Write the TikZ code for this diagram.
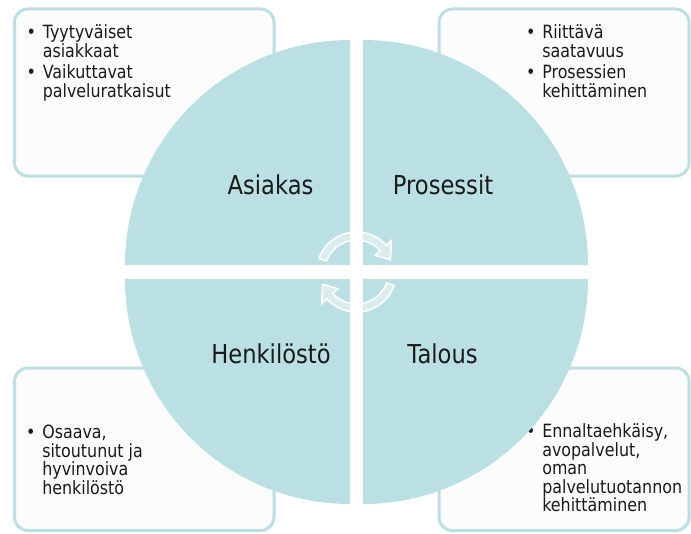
\documentclass[tikz,border=0pt]{standalone}
\usepackage{fontspec}
\setmainfont{DejaVu Sans}[FakeStretch=0.87]
\usetikzlibrary{positioning}
\definecolor{quadteal}{RGB}{187,224,227}
\definecolor{boxwhite}{RGB}{252,252,252}
\definecolor{inktext}{RGB}{26,26,26}
\newcommand{\goallines}[1]{\vtop{\baselineskip=13.9pt\let\\\cr\halign{##\hfil\cr#1\crcr}}}

\begin{document}
\begin{tikzpicture}[x=0.75pt,y=0.75pt,
  quad/.style={fill=quadteal},
  goalbox/.style={draw=quadteal,line width=2.25pt,fill=boxwhite,rounded corners=10pt},
  goal/.style={anchor=base west,inner sep=0pt,text=inktext,
    font=\fontsize{13.7}{13.9}\selectfont},
  area/.style={anchor=base,inner sep=0pt,text=inktext,font=\fontsize{19.5}{20}\selectfont},
  turnarrow/.style={fill=white,fill opacity=0.45,draw=white,draw opacity=1,line width=1.2pt}]
  \useasboundingbox (0,0) rectangle (691,533);

  \draw[goalbox] (14.5,524) rectangle (274,357);
  \draw[goalbox] (439,524) rectangle (689,357);
  \draw[goalbox] (14.5,165) rectangle (274,2.5);
  \draw[goalbox] (439,165) rectangle (689,2.5);

  \node[goal] (asiakas1) at (42.5,494.3) {\goallines{\llap{•\hspace{5pt}}Tyytyväiset\\asiakkaat}};
  \node[goal] (asiakas2) at (42.5,454) {\goallines{\llap{•\hspace{5pt}}Vaikuttavat\\palveluratkaisut}};
  \node[goal] (prosessit1) at (542,494.3) {\goallines{\llap{•\hspace{5pt}}Riittävä\\saatavuus}};
  \node[goal] (prosessit2) at (542,454) {\goallines{\llap{•\hspace{5pt}}Prosessien\\kehittäminen}};
  \node[goal] (henkilosto1) at (42,94.3) {\goallines{\llap{•\hspace{5pt}}Osaava,\\sitoutunut ja\\hyvinvoiva\\henkilöstö}};
  \node[goal] (talous1) at (542,95.3) {\goallines{\llap{•\hspace{5pt}}Ennaltaehkäisy,\\avopalvelut,\\oman\\palvelutuotannon\\kehittäminen}};

  \fill[quad] (350,268) -- ++(-225,0) arc[start angle=180,end angle=90,radius=225] -- cycle;
  \fill[quad] (363,268) -- ++(225,0) arc[start angle=0,end angle=90,radius=225] -- cycle;
  \fill[quad] (350,254) -- ++(-225,0) arc[start angle=180,end angle=270,radius=225] -- cycle;
  \fill[quad] (363,254) -- ++(225,0) arc[start angle=0,end angle=-90,radius=225] -- cycle;

  \node[area] (asiakas) at (270.5,339) {Asiakas};
  \node[area] (prosessit) at (443,339) {Prosessit};
  \node[area] (henkilosto) at (271,170) {Henkilöstö};
  \node[area] (talous) at (442.5,170) {Talous};

  \begin{scope}[shift={(356.5,261)}]
    \filldraw[turnarrow] (160:40) arc[start angle=160,end angle=42,radius=40]
      -- (42:47) -- (20:36) -- (42:25) -- (42:32)
      arc[start angle=42,end angle=160,radius=32] -- cycle;
    \filldraw[turnarrow] (-20:40) arc[start angle=-20,end angle=-138,radius=40]
      -- (-138:47) -- (-160:36) -- (-138:25) -- (-138:32)
      arc[start angle=-138,end angle=-20,radius=32] -- cycle;
  \end{scope}
\end{tikzpicture}
\end{document}
